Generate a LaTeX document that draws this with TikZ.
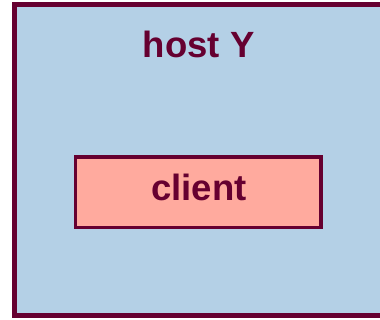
\documentclass[tikz,border=0pt]{standalone}
\usepackage{fontspec}
\setmainfont{Liberation Sans}
\definecolor{hostfill}{RGB}{180,208,230}
\definecolor{clientfill}{RGB}{255,170,158}
\definecolor{maroon}{RGB}{102,0,48}
\tikzset{
  hostbox/.style={draw=maroon, fill=hostfill, line width=5pt},
  clientbox/.style={draw=maroon, fill=clientfill, line width=3.5pt},
  lbl/.style={text=maroon, font=\bfseries\fontsize{36.5}{42}\selectfont, inner sep=0pt, anchor=base}
}
\begin{document}
\begin{tikzpicture}[x=1pt,y=-1pt]
\useasboundingbox (0,0) rectangle (380,320);
\draw[hostbox] (14.5,4.5) rectangle (390,315.5);
\node[lbl] (host) at (198.7,57.7) {host Y};
\draw[clientbox] (75.5,157) rectangle (321,227.5);
\node[lbl] (client) at (199,201) {client};
\end{tikzpicture}
\end{document}
